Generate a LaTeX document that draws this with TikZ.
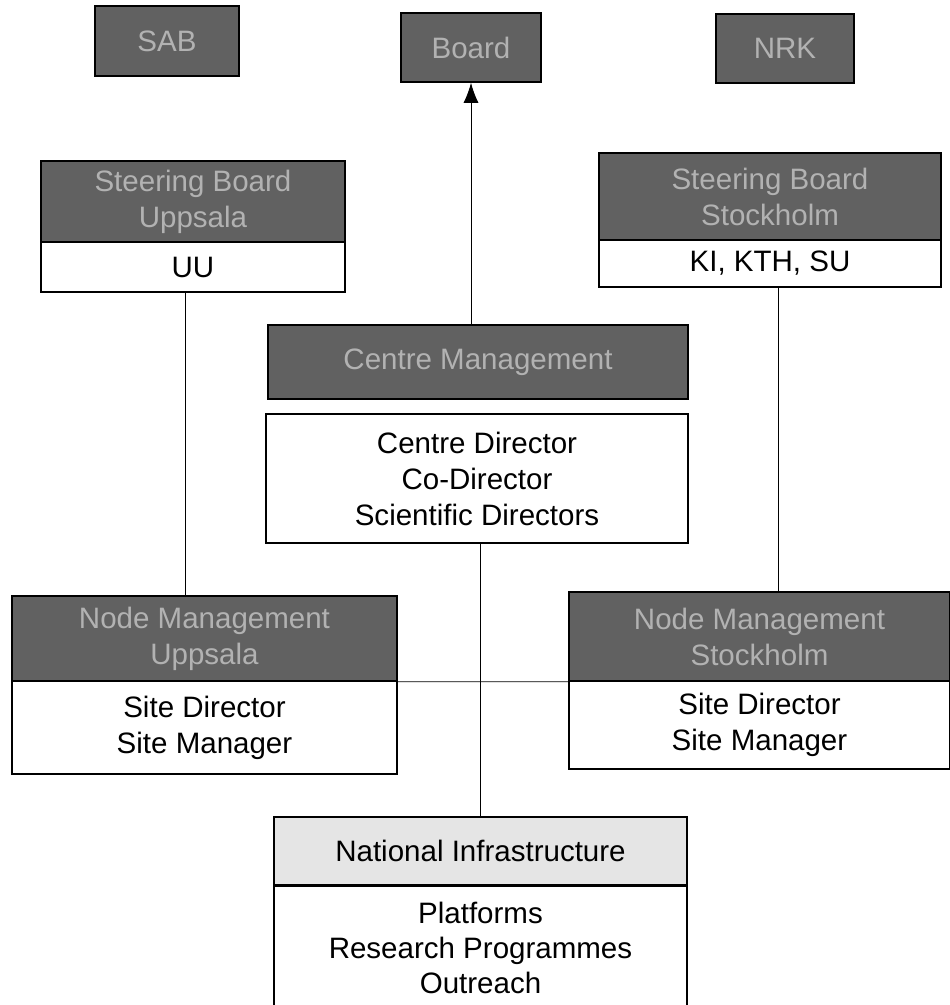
\documentclass[tikz,border=0pt]{standalone}
\usepackage{fontspec}
\setmainfont{Liberation Sans}
\usepackage{tikz}
\usetikzlibrary{arrows.meta}

\begin{document}
\begin{tikzpicture}[x=0.02cm,y=-0.02cm]
		\tikzset{>={Latex[length=4mm,width=3mm]}}
		\tikzset{box/.style={draw,line width=0.9pt,inner sep=0pt,align=center,font=\fontsize{16.8}{20.5}\selectfont},
			darkbox/.style={box,fill=black!62,text=black!30},
			whitebox/.style={box,fill=white},
			lightbox/.style={box,fill=black!10},
			link/.style={line width=0.5pt}}
		\useasboundingbox (0,0) rectangle (950,1005);
		\clip (0,0) rectangle (950,1005);
		\node[darkbox, minimum width=2.88cm, minimum height=1.4cm] (sab) at (167,41) {SAB};
		\node[darkbox, minimum width=2.8cm, minimum height=1.38cm] (board) at (471,47.5) {Board};
		\node[darkbox, minimum width=2.76cm, minimum height=1.38cm] (nrk) at (785,48.5) {NRK};
		
		\node[darkbox, minimum width=6.08cm, minimum height=1.62cm] (sbU) at (193,201.5) {Steering Board\\Uppsala};
		\node[whitebox, minimum width=6.08cm, minimum height=1cm] (uu) at (193,267) {UU};
		\node[darkbox, minimum width=6.84cm, minimum height=1.74cm] (sbS) at (770,196.5) {Steering Board\\Stockholm};
		\node[whitebox, minimum width=6.84cm, minimum height=0.94cm] (kth) at (770,263.5) {KI, KTH, SU};
		
		\node[darkbox, minimum width=8.4cm, minimum height=1.48cm] (cm) at (478,362) {Centre Management};
		\node[whitebox, minimum width=8.44cm, minimum height=2.58cm] (cd) at (477,478.5) {Centre Director\\Co-Director\\Scientific Directors};
		
		\node[darkbox, minimum width=7.7cm, minimum height=1.7cm] (nmU) at (204.5,638.5) {Node Management\\Uppsala};
		\node[whitebox, minimum width=7.7cm, minimum height=1.86cm] (sdU) at (204.5,727.5) {Site Director\\Site Manager};
		\node[darkbox, minimum width=7.62cm, minimum height=1.78cm] (nmS) at (759.5,636.5) {Node Management\\Stockholm};
		\node[whitebox, minimum width=7.62cm, minimum height=1.76cm] (sdS) at (759.5,725) {Site Director\\Site Manager};
		
		\node[lightbox, minimum width=8.26cm, minimum height=1.36cm] (ni) at (480.5,851) {National Infrastructure};
		\node[whitebox, minimum width=8.26cm, minimum height=2.48cm, font=\fontsize{16.8}{19.8}\selectfont] (pr) at (480.5,948) {Platforms\\Research Programmes\\Outreach};
		
		\draw[link,->] (board.south |- cm.north) -- (board.south);
		\draw[link] ([xshift=-1.6mm]uu.south) -- ([xshift=-1.6mm]uu.south |- nmU.north);
		\draw[link] ([xshift=1.6mm]kth.south) -- ([xshift=1.6mm]kth.south |- nmS.north);
		\draw[link] (ni.north |- cd.south) -- (ni.north);
		\draw[link] (nmU.south east) -- (nmS.south west);
		
	\end{tikzpicture}
\end{document}
